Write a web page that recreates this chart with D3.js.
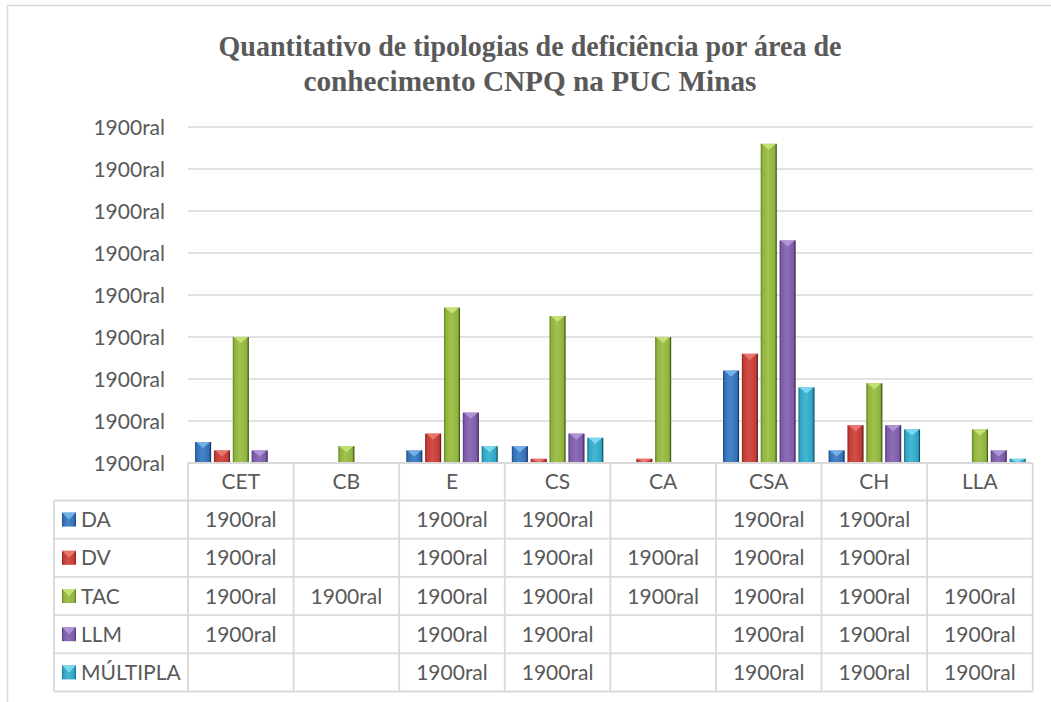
<!DOCTYPE html>
<html><head><meta charset="utf-8">
<script src="https://cdn.jsdelivr.net/npm/d3@7"></script>
<style>
html,body{margin:0;padding:0;background:#fff;}
svg{display:block;}
</style></head>
<body>
<svg id="chart" width="1051" height="702"></svg>
<script>
const titleLines = ["Quantitativo de tipologias de deficiência por área de", "conhecimento CNPQ na PUC Minas"];
const categories = ["CET", "CB", "E", "CS", "CA", "CSA", "CH", "LLA"];
const seriesNames = ["DA", "DV", "TAC", "LLM", "MÚLTIPLA"];
const DA       = [5, null, 3, 4, null, 22, 3, null];
const DV       = [3, null, 7, 1, 1, 26, 9, null];
const TAC      = [30, 4, 37, 35, 30, 76, 19, 8];
const LLM      = [3, null, 12, 7, null, 53, 9, 3];
const MULTIPLA = [null, null, 4, 6, null, 18, 8, 1];
const tickValues = [0, 10, 20, 30, 40, 50, 60, 70, 80];
const tickLabels = ["1900ral","1900ral","1900ral","1900ral","1900ral","1900ral","1900ral","1900ral","1900ral"];
const cellLabel = "1900ral";
const colors = [
  {base:"#3470b8", light:"#78b6ea", dark:"#1d4a80"},
  {base:"#c53c36", light:"#ec7a73", dark:"#8a2420"},
  {base:"#8fb43c", light:"#c8e37a", dark:"#5d7a22"},
  {base:"#7d5ca8", light:"#b498dc", dark:"#523a78"},
  {base:"#2ea6c6", light:"#84dcf2", dark:"#1a6f88"}
];
const seriesData = [DA, DV, TAC, LLM, MULTIPLA];

const svg = d3.select("#chart");
const defs = svg.append("defs");
colors.forEach((c,i)=>{
  const g = defs.append("linearGradient").attr("id","g"+i).attr("x1","0").attr("x2","1").attr("y1","0").attr("y2","0");
  g.append("stop").attr("offset","0").attr("stop-color",c.dark);
  g.append("stop").attr("offset","0.12").attr("stop-color",c.base);
  g.append("stop").attr("offset","0.45").attr("stop-color",d3.interpolateRgb(c.base,c.light)(0.3));
  g.append("stop").attr("offset","0.85").attr("stop-color",c.base);
  g.append("stop").attr("offset","1").attr("stop-color",c.dark);
});

const grey = "#d9d9d9";
const textCol = "#595959";
const font = "Lato, 'Noto Sans', sans-serif";

// outer border
svg.append("rect").attr("x",7.5).attr("y",5.5).attr("width",1100).attr("height",800)
  .attr("fill","none").attr("stroke",grey).attr("stroke-width",1.5);

// title
svg.append("g").selectAll("text").data(titleLines).join("text")
  .attr("x",530).attr("y",(d,i)=>56+i*35)
  .attr("text-anchor","middle")
  .attr("font-family","'Liberation Serif', 'Times New Roman', serif")
  .attr("font-weight","bold").attr("font-size",30)
  .attr("fill",textCol)
  .attr("textLength",(d,i)=>i===0?623:453).attr("lengthAdjust","spacingAndGlyphs")
  .text(d=>d);

const plotLeft = 188, plotRight = 1032.7;
const y = d3.scaleLinear().domain([0,80]).range([463,127]);
const x0 = d3.scaleBand().domain(categories).range([plotLeft, plotRight]);
const x1 = d3.scaleBand().domain(seriesNames).range([0, x0.bandwidth()]).paddingInner(0.15).paddingOuter(0.375);

// gridlines
svg.append("g").selectAll("line").data(tickValues.slice(1)).join("line")
  .attr("x1",plotLeft).attr("x2",plotRight)
  .attr("y1",d=>y(d)).attr("y2",d=>y(d))
  .attr("stroke",grey).attr("stroke-width",1.6);

// y tick labels
const yAxis = d3.axisLeft(y).tickValues(tickValues).tickFormat((d,i)=>tickLabels[i]).tickSize(0).tickPadding(0);
const ya = svg.append("g").attr("transform","translate(165,0)").call(yAxis);
ya.select(".domain").remove();
ya.selectAll("text").attr("font-family",font).attr("font-size",21).attr("fill",textCol).attr("dy","0.34em");

// bars
const barG = svg.append("g");
seriesData.forEach((vals,si)=>{
  const c = colors[si];
  const key = seriesNames[si];
  const data = categories.map((cat,ci)=>({cat, v: vals[ci]})).filter(d=>d.v!=null);
  const g = barG.append("g");
  const w = x1.bandwidth();
  data.forEach(d=>{
    const bx = x0(d.cat)+x1(key);
    const by = y(d.v), bh = y(0)-y(d.v);
    g.append("rect").attr("x",bx).attr("y",by).attr("width",w).attr("height",bh).attr("fill","url(#g"+si+")");
    const th = Math.min(bh, w*0.38);
    g.append("path").attr("d",`M${bx+1},${by}L${bx+w-1},${by}L${bx+w/2},${by+th}Z`).attr("fill",c.light).attr("opacity",0.9);
    g.append("line").attr("x1",bx+w-0.5).attr("x2",bx+w-0.5).attr("y1",by).attr("y2",by+bh).attr("stroke","#000").attr("stroke-opacity",0.35).attr("stroke-width",1);
  });
});

// data table
const tableTop = 463, headerH = 37.5, rowH = 38.2, tableLeft = 54;
const rowsTop = tableTop + headerH;
const tableBottom = rowsTop + rowH*seriesNames.length;
const tg = svg.append("g");
tg.append("line").attr("x1",plotLeft).attr("x2",plotRight).attr("y1",tableTop).attr("y2",tableTop).attr("stroke",grey).attr("stroke-width",1.8);
d3.range(seriesNames.length+1).forEach(i=>{
  tg.append("line").attr("x1",tableLeft).attr("x2",plotRight).attr("y1",rowsTop+i*rowH).attr("y2",rowsTop+i*rowH).attr("stroke",grey).attr("stroke-width",1.8);
});
categories.concat(["_end"]).forEach((cat,i)=>{
  const xx = i<categories.length ? x0(cat) : plotRight;
  tg.append("line").attr("x1",xx).attr("x2",xx).attr("y1",tableTop).attr("y2",tableBottom).attr("stroke",grey).attr("stroke-width",1.8);
});
tg.append("line").attr("x1",tableLeft).attr("x2",tableLeft).attr("y1",rowsTop).attr("y2",tableBottom).attr("stroke",grey).attr("stroke-width",1.8);

tg.selectAll("text.cat").data(categories).join("text").attr("class","cat")
  .attr("x",d=>x0(d)+x0.bandwidth()/2).attr("y",tableTop+headerH/2).attr("dy","0.36em")
  .attr("text-anchor","middle").attr("font-family",font).attr("font-size",21).attr("fill",textCol).text(d=>d);

seriesNames.forEach((name,si)=>{
  const cy = rowsTop + si*rowH + rowH/2;
  const c = colors[si];
  const ks = 14;
  tg.append("rect").attr("x",62).attr("y",cy-ks/2).attr("width",ks).attr("height",ks).attr("fill","url(#g"+si+")");
  tg.append("path").attr("d",`M62,${cy-ks/2}L${62+ks},${cy-ks/2}L${62+ks/2},${cy}Z`).attr("fill",c.light).attr("opacity",0.9);
  tg.append("text").attr("x",81).attr("y",cy).attr("dy","0.36em").attr("font-family",font).attr("font-size",21).attr("fill",textCol).text(name);
  seriesData[si].forEach((v,ci)=>{
    if(v==null) return;
    tg.append("text").attr("x",x0(categories[ci])+x0.bandwidth()/2).attr("y",cy).attr("dy","0.36em")
      .attr("text-anchor","middle").attr("font-family",font).attr("font-size",21).attr("fill",textCol).text(cellLabel);
  });
});
</script>
</body></html>
